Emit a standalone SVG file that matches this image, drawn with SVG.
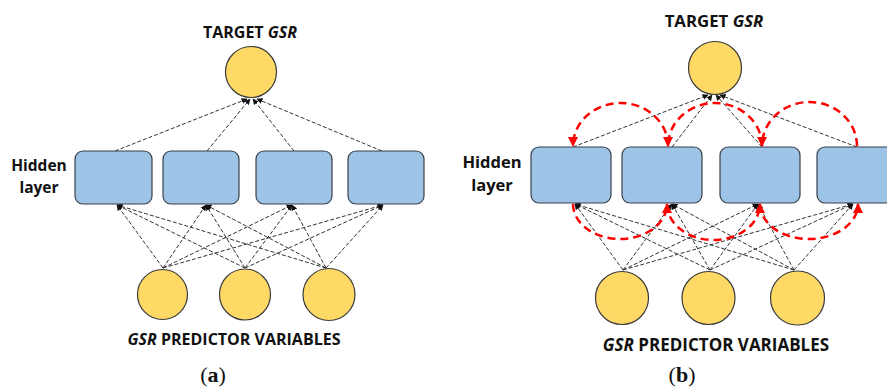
<svg xmlns="http://www.w3.org/2000/svg" width="887" height="390" viewBox="0 0 887 390">
<defs>
<style>
.lbl{font-family:"Open Sans","Liberation Sans",sans-serif;font-weight:700;fill:#111;}
.cap{font-family:"Liberation Serif",serif;font-size:22px;fill:#111;}
.box{fill:#9dc3e6;stroke:#3a3f46;stroke-width:1.2;}
.node{fill:#ffd966;stroke:#3a3a3a;stroke-width:1.2;}
.ln{stroke:#333;stroke-width:1;stroke-dasharray:4 2;fill:none;marker-end:url(#ah);}
.rd{stroke:#ff0000;stroke-width:2.5;stroke-dasharray:8 5;fill:none;marker-end:url(#rh);}
</style>
<marker id="ah" viewBox="0 0 10 10" refX="9" refY="5" markerWidth="6" markerHeight="6" markerUnits="userSpaceOnUse" orient="auto"><path d="M0,0L10,5L0,10z" fill="#111"/></marker>
<marker id="rh" viewBox="0 0 10 10" refX="9" refY="5" markerWidth="10" markerHeight="10" markerUnits="userSpaceOnUse" orient="auto"><path d="M0,0L10,5L0,10z" fill="#ff0000"/></marker>
</defs>
<rect width="887" height="390" fill="#fff"/>

<!-- Panel (a) -->
<g id="a-labels">
<text class="lbl" x="250" y="38" font-size="16" text-anchor="middle">TARGET <tspan font-style="italic">GSR</tspan></text>
<text class="lbl" x="39" y="171" font-size="15.5" text-anchor="middle">Hidden</text>
<text class="lbl" x="39" y="193" font-size="15.5" text-anchor="middle">layer</text>
<text class="lbl" x="234" y="345" font-size="16" text-anchor="middle"><tspan font-style="italic">GSR</tspan> PREDICTOR VARIABLES</text>
<text class="cap" x="213" y="382" text-anchor="middle">(<tspan font-weight="700">a</tspan>)</text>
</g>
<g id="a-connectors">
<line class="ln" x1="115" y1="151" x2="247" y2="99"/>
<line class="ln" x1="207" y1="151" x2="250" y2="99"/>
<line class="ln" x1="294" y1="151" x2="253" y2="99"/>
<line class="ln" x1="382" y1="151" x2="257" y2="99"/>
<line class="ln" x1="163" y1="268" x2="117" y2="205"/>
<line class="ln" x1="163" y1="268" x2="206" y2="205"/>
<line class="ln" x1="163" y1="268" x2="292" y2="205"/>
<line class="ln" x1="163" y1="268" x2="383" y2="205"/>
<line class="ln" x1="245" y1="268" x2="117" y2="205"/>
<line class="ln" x1="245" y1="268" x2="206" y2="205"/>
<line class="ln" x1="245" y1="268" x2="292" y2="205"/>
<line class="ln" x1="245" y1="268" x2="383" y2="205"/>
<line class="ln" x1="326" y1="268" x2="117" y2="205"/>
<line class="ln" x1="326" y1="268" x2="206" y2="205"/>
<line class="ln" x1="326" y1="268" x2="292" y2="205"/>
<line class="ln" x1="326" y1="268" x2="383" y2="205"/>
</g>
<g id="a-target"><circle class="node" cx="251" cy="72" r="25.5"/></g>
<g id="a-h1"><rect class="box" x="75" y="151" width="77" height="53" rx="8"/></g>
<g id="a-h2"><rect class="box" x="163" y="151" width="76" height="53" rx="8"/></g>
<g id="a-h3"><rect class="box" x="256" y="151" width="76" height="53" rx="8"/></g>
<g id="a-h4"><rect class="box" x="348" y="151" width="76" height="53" rx="8"/></g>
<g id="a-in1"><circle class="node" cx="162.5" cy="294.5" r="25"/></g>
<g id="a-in2"><circle class="node" cx="245" cy="294.5" r="25.5"/></g>
<g id="a-in3"><circle class="node" cx="329" cy="294.5" r="26"/></g>

<!-- Panel (b) -->
<g id="b-labels">
<text class="lbl" x="714" y="27" font-size="16.8" text-anchor="middle">TARGET <tspan font-style="italic">GSR</tspan></text>
<text class="lbl" x="492" y="168" font-size="16.5" text-anchor="middle">Hidden</text>
<text class="lbl" x="492" y="191" font-size="16.5" text-anchor="middle">layer</text>
<text class="lbl" x="716" y="351" font-size="17" text-anchor="middle"><tspan font-style="italic">GSR</tspan> PREDICTOR VARIABLES</text>
<text class="cap" x="682" y="382" text-anchor="middle">(<tspan font-weight="700">b</tspan>)</text>
</g>
<g id="b-connectors">
<line class="ln" x1="573" y1="147" x2="708" y2="95"/>
<line class="ln" x1="672" y1="147" x2="712" y2="95"/>
<line class="ln" x1="762" y1="147" x2="716" y2="95"/>
<line class="ln" x1="857" y1="147" x2="720" y2="95"/>
<line class="ln" x1="623" y1="270" x2="575" y2="204"/>
<line class="ln" x1="623" y1="270" x2="672" y2="204"/>
<line class="ln" x1="623" y1="270" x2="758" y2="204"/>
<line class="ln" x1="623" y1="270" x2="853" y2="204"/>
<line class="ln" x1="710" y1="270" x2="575" y2="204"/>
<line class="ln" x1="710" y1="270" x2="672" y2="204"/>
<line class="ln" x1="710" y1="270" x2="758" y2="204"/>
<line class="ln" x1="710" y1="270" x2="853" y2="204"/>
<line class="ln" x1="794" y1="270" x2="575" y2="204"/>
<line class="ln" x1="794" y1="270" x2="672" y2="204"/>
<line class="ln" x1="794" y1="270" x2="758" y2="204"/>
<line class="ln" x1="794" y1="270" x2="853" y2="204"/>
<path class="rd" d="M668,146 A47.5,43 0 0,0 573,146"/>
<path class="rd" d="M762,146 A47,43 0 0,0 668,146"/>
<path class="rd" d="M857,146 A47.5,44 0 0,0 762,146"/>
<path class="rd" d="M573,204 A47,35 0 0,0 667,204"/>
<path class="rd" d="M667,204 A46.5,36 0 0,0 760,204"/>
<path class="rd" d="M760,204 A49,35 0 0,0 858,204"/>
</g>
<g id="b-target"><circle class="node" cx="715" cy="68" r="26.5"/></g>
<g id="b-h1"><rect class="box" x="531" y="147" width="80" height="56" rx="8"/></g>
<g id="b-h2"><rect class="box" x="622" y="147" width="80" height="56" rx="8"/></g>
<g id="b-h3"><rect class="box" x="720" y="147" width="80" height="56" rx="8"/></g>
<g id="b-h4"><rect class="box" x="817" y="147" width="80" height="56" rx="8"/></g>
<g id="b-in1"><circle class="node" cx="622" cy="298" r="26.5"/></g>
<g id="b-in2"><circle class="node" cx="708.5" cy="298" r="26.5"/></g>
<g id="b-in3"><circle class="node" cx="797.5" cy="298" r="27"/></g>
</svg>
